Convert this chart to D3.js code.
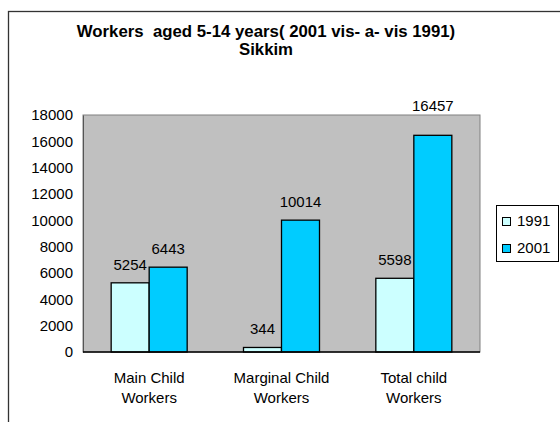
<!DOCTYPE html>
<html>
<head>
<meta charset="utf-8">
<script src="https://cdn.jsdelivr.net/npm/d3@7/dist/d3.min.js"></script>
<style>
  html, body { margin: 0; padding: 0; background: #fff; }
  text { font-family: "Liberation Sans", Arial, sans-serif; fill: #000; }
</style>
</head>
<body>
<svg id="chart" width="560" height="422"></svg>
<script>
// ---- data ----
const categories = [["Main Child", "Workers"], ["Marginal Child", "Workers"], ["Total child", "Workers"]];
const seriesNames = ["1991", "2001"];
const values1991 = [5254, 344, 5598];
const values2001 = [6443, 10014, 16457];
const yTicks = [0, 2000, 4000, 6000, 8000, 10000, 12000, 14000, 16000, 18000];
const titleLines = ["Workers  aged 5-14 years( 2001 vis- a- vis 1991)", "Sikkim"];

// ---- styles / layout ----
const colors = ["#CCFFFF", "#00CCFF"];
const plot = { left: 83, top: 115, right: 480, bottom: 352 };
const labelNudge = { "2-1": -11 }; // manually raised label in reference

const svg = d3.select("#chart");

// outer chart border
svg.append("rect")
  .attr("x", 8.5).attr("y", 11.5).attr("width", 560).attr("height", 420)
  .attr("fill", "#fff").attr("stroke", "#333").attr("stroke-width", 1.3);

// title
svg.selectAll("text.title").data(titleLines).enter().append("text")
  .attr("class", "title")
  .attr("x", 266).attr("y", (d, i) => 37 + i * 18)
  .attr("text-anchor", "middle")
  .style("white-space", "pre")
  .style("font-weight", "bold").style("font-size", "16.8px")
  .text(d => d);

const x0 = d3.scaleBand().domain(d3.range(categories.length))
  .range([plot.left, plot.right]).paddingInner(0).paddingOuter(0);
const barW = 38;
const x1 = d3.scaleBand().domain(seriesNames).range([0, barW * 2]);
const y = d3.scaleLinear().domain([0, 18000]).range([plot.bottom, plot.top]);

// plot area
svg.append("rect")
  .attr("x", plot.left).attr("y", plot.top)
  .attr("width", plot.right - plot.left).attr("height", plot.bottom - plot.top)
  .attr("fill", "#C0C0C0").attr("stroke", "#808080").attr("stroke-width", 1);

// y axis
const yAxis = d3.axisLeft(y).tickValues(yTicks).tickSize(0).tickPadding(10).tickFormat(d3.format("d"));
const gy = svg.append("g").attr("transform", `translate(${plot.left},0)`).call(yAxis);
gy.select(".domain").attr("stroke", "#555");
gy.selectAll("text").style("font-size", "15px").style("font-family", '"Liberation Sans", Arial, sans-serif');

// bars
const series = [values1991, values2001];
const bars = [];
categories.forEach((c, ci) => {
  series.forEach((vals, si) => bars.push({ ci, si, v: vals[ci] }));
});
const groupX = ci => x0(ci) + (x0.bandwidth() - barW * 2) / 2;

svg.selectAll("rect.bar").data(bars).enter().append("rect")
  .attr("class", "bar")
  .attr("x", d => groupX(d.ci) + x1(seriesNames[d.si]))
  .attr("y", d => y(d.v))
  .attr("width", x1.bandwidth())
  .attr("height", d => y(0) - y(d.v))
  .attr("fill", d => colors[d.si])
  .attr("stroke", "#000").attr("stroke-width", 1.3);

// value labels
svg.selectAll("text.val").data(bars).enter().append("text")
  .attr("class", "val")
  .attr("x", d => groupX(d.ci) + x1(seriesNames[d.si]) + x1.bandwidth() / 2)
  .attr("y", d => y(d.v) - 13 + (labelNudge[d.ci + "-" + d.si] || 0))
  .attr("text-anchor", "middle").style("font-size", "15px")
  .text(d => d.v);

// x axis baseline
svg.append("line")
  .attr("x1", plot.left).attr("x2", plot.right)
  .attr("y1", y(0)).attr("y2", y(0))
  .attr("stroke", "#000").attr("stroke-width", 1.3);

// category labels
const cl = svg.selectAll("text.cat").data(categories).enter().append("text")
  .attr("class", "cat")
  .attr("text-anchor", "middle").style("font-size", "15px");
cl.each(function (d, i) {
  d3.select(this).selectAll("tspan").data(d).enter().append("tspan")
    .attr("x", x0(i) + x0.bandwidth() / 2)
    .attr("y", (t, j) => 383 + j * 20)
    .text(t => t);
});

// legend
const lg = svg.append("g");
lg.append("rect").attr("x", 496.5).attr("y", 205.5).attr("width", 62).attr("height", 56)
  .attr("fill", "#fff").attr("stroke", "#000").attr("stroke-width", 1);
seriesNames.forEach((s, i) => {
  lg.append("rect").attr("x", 502.5).attr("y", 217.5 + i * 27).attr("width", 8).attr("height", 8)
    .attr("fill", colors[i]).attr("stroke", "#000").attr("stroke-width", 1);
  lg.append("text").attr("x", 517).attr("y", 226 + i * 27).style("font-size", "15px").text(s);
});
</script>
</body>
</html>
